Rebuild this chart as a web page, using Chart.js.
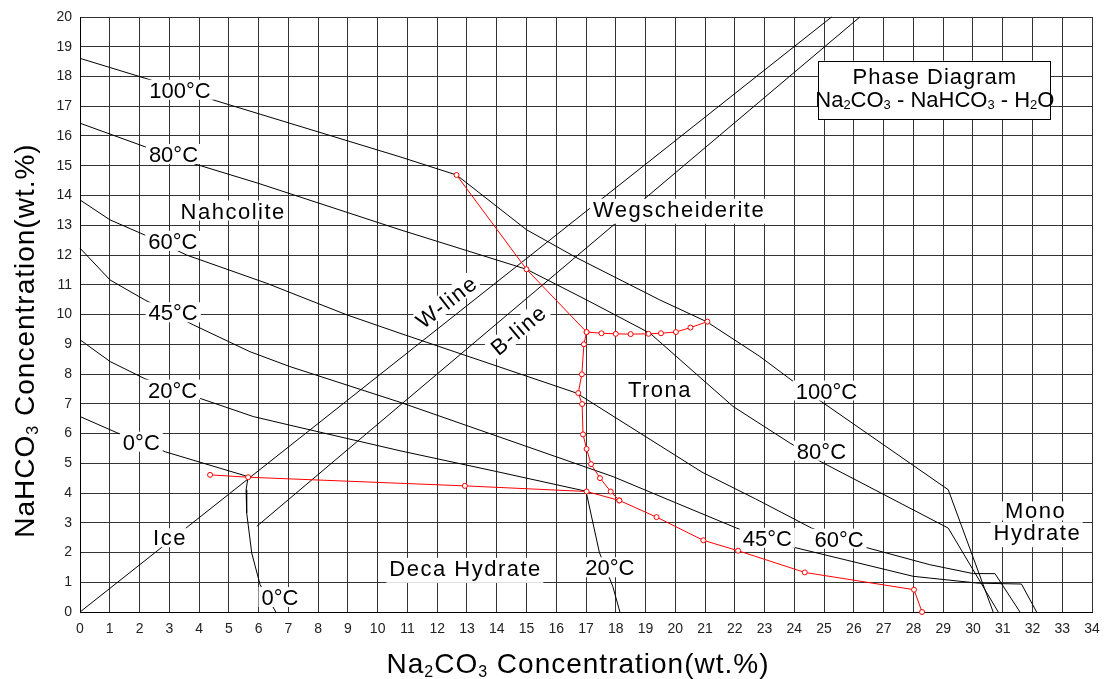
<!DOCTYPE html>
<html>
<head>
<meta charset="utf-8">
<script src="https://cdn.jsdelivr.net/npm/chart.js@4.4.1/dist/chart.umd.min.js"></script>
<style>
html, body { margin: 0; padding: 0; background: #fff; }
canvas { display: block; }
</style>
</head>
<body>
<canvas id="c" width="1111" height="679"></canvas>
<script>
const FONT = "'Liberation Sans', Arial, Helvetica, sans-serif";

// ---- axis ranges / ticks ----
const xMin = 0, xMax = 34, xStep = 1;
const yMin = 0, yMax = 20, yStep = 1;

// ---- isotherms: Na2CO3 wt% (X) vs NaHCO3 wt% (Y) ----
const iso100X = [0, 2.29, 4.39, 10.75, 12.65, 15.0, 16.7, 19.48, 21.05, 22.84, 24.19, 24.91, 29.17, 30.68];
const iso100Y = [18.61, 17.91, 17.24, 15.30, 14.69, 12.85, 11.9, 10.49, 9.76, 8.59, 7.58, 7.07, 4.11, 0];

const iso80X = [0, 2.18, 3.86, 5.99, 10.75, 15.0, 17.02, 19.15, 21.94, 23.85, 24.91, 29.17, 30.85];
const iso80Y = [16.43, 15.64, 15.06, 14.41, 12.85, 11.52, 10.49, 9.37, 6.91, 5.68, 5.04, 2.82, 0];

const iso60X = [0, 1.01, 2.18, 3.58, 6.27, 8.96, 10.75, 16.68, 20.9, 22.7, 24.58, 26.37, 28.55, 30.01, 30.74, 31.58];
const iso60Y = [13.85, 13.18, 12.67, 12.0, 11.05, 9.99, 9.37, 7.36, 4.7, 3.8, 2.82, 2.18, 1.59, 1.29, 1.29, 0];

const iso45X = [0, 1.01, 2.18, 3.81, 5.71, 7.05, 10.75, 17.91, 20.04, 22.06, 23.96, 27.99, 28.55, 30.17, 31.63, 32.14];
const iso45Y = [12.23, 11.16, 10.49, 9.65, 8.75, 8.25, 7.05, 4.55, 3.66, 2.82, 2.18, 1.2, 1.14, 0.97, 0.94, 0];

const iso20X = [0, 1.01, 2.18, 3.86, 5.82, 7.05, 10.75, 14.0, 17.0, 17.45, 17.9, 18.14];
const iso20Y = [9.15, 8.42, 7.84, 7.24, 6.57, 6.28, 5.42, 4.72, 4.06, 2.0, 0.86, 0];

const iso0X = [0, 1.23, 2.88, 5.65, 5.58, 5.6, 5.77, 6.05, 6.58];
const iso0Y = [6.57, 6.03, 5.38, 4.55, 4.11, 3.33, 1.98, 0.92, 0];

// ---- W-line and B-line ----
const wLineX = [0, 25.25];
const wLineY = [0, 20];
const bLineX = [5.94, 26.2];
const bLineY = [2.88, 20];

// ---- invariant-point (red) curves ----
const redLowX = [4.37, 5.65, 12.93, 17.02, 18.12, 19.37, 20.94, 22.11, 24.35, 28.02, 28.29];
const redLowY = [4.61, 4.53, 4.24, 4.05, 3.75, 3.19, 2.41, 2.06, 1.33, 0.75, 0];

const redUpX = [12.65, 15.0, 17.02, 16.93, 16.86, 16.74, 16.87, 16.9, 17.02, 17.17, 17.47, 17.83, 18.12];
const redUpY = [14.69, 11.52, 9.41, 9.0, 7.99, 7.36, 6.99, 5.97, 5.48, 4.97, 4.5, 4.05, 3.75];

const redTronaX = [17.02, 17.52, 18.0, 18.5, 19.1, 19.52, 20.02, 20.51, 21.08];
const redTronaY = [9.41, 9.37, 9.35, 9.34, 9.35, 9.37, 9.41, 9.56, 9.76];

// ---- region / isotherm labels (anchored in data units) ----
const labelText = ['100°C', '80°C', '60°C', '45°C', '20°C', '0°C', 'Nahcolite', 'Ice', '0°C',
  'Wegscheiderite', 'Trona', 'Deca Hydrate', '20°C', '45°C', '60°C', '100°C', '80°C', 'Mono', 'Hydrate',
  'W-line', 'B-line'];
const labelX = [3.36, 3.14, 3.12, 3.13, 3.11, 2.06, 5.12, 3.0, 6.72,
  20.1, 19.46, 12.93, 17.8, 23.09, 25.5, 25.08, 24.91, 32.08, 32.14,
  12.29, 14.71];
const labelY = [17.55, 15.39, 12.47, 10.07, 7.47, 5.72, 13.49, 2.51, 0.5,
  13.55, 7.49, 1.48, 1.5, 2.49, 2.46, 7.44, 5.42, 3.41, 2.68,
  10.42, 9.48];
const labelAngle = [0, 0, 0, 0, 0, 0, 0, 0, 0,
  0, 0, 0, 0, 0, 0, 0, 0, 0, 0,
  -38, -40];

// ---- legend box ----
const boxTitle = 'Phase Diagram';
const boxCornersX = [24.79, 32.59];
const boxCornersY = [18.53, 16.57];
const boxTextX = 28.72;
const boxTextY = [18.0, 17.24];

function pts(xs, ys) { return xs.map((x, i) => ({ x: x, y: ys[i] })); }

function blackLine(label, xs, ys) {
  return { label, data: pts(xs, ys), showLine: true, borderColor: '#000', borderWidth: 1,
    pointRadius: 0, pointHoverRadius: 0, tension: 0, fill: false, clip: false };
}
function redLine(label, xs, ys) {
  return { label, data: pts(xs, ys), showLine: true, borderColor: '#ff0000', borderWidth: 1,
    pointRadius: 2.5, pointHoverRadius: 2.5, pointBorderWidth: 1, pointBorderColor: '#ff0000',
    pointBackgroundColor: '#ffffff', tension: 0, fill: false, clip: false };
}

// rich text with subscripts
function richMeasure(ctx, segs, size, subSize) {
  let w = 0;
  for (const [t, sub] of segs) {
    ctx.font = (sub ? subSize : size) + 'px ' + FONT;
    w += ctx.measureText(t).width;
  }
  return w;
}
function richDraw(ctx, segs, x, y, size, subSize, subShift) {
  let cx = x;
  for (const [t, sub] of segs) {
    ctx.font = (sub ? subSize : size) + 'px ' + FONT;
    ctx.fillText(t, cx, sub ? y + subShift : y);
    cx += ctx.measureText(t).width;
  }
}

const overlayPlugin = {
  id: 'overlay',
  afterDatasetsDraw(chart) {
    const ctx = chart.ctx;
    const xs = chart.scales.x, ys = chart.scales.y;
    ctx.save();
    ctx.textAlign = 'left';
    ctx.textBaseline = 'alphabetic';
    // labels with white background
    for (let i = 0; i < labelText.length; i++) {
      const text = labelText[i];
      const px = xs.getPixelForValue(labelX[i]);
      const py = ys.getPixelForValue(labelY[i]);
      const size = 22;
      const spacing = text.indexOf('°') >= 0 ? 0 : 1.5;
      ctx.save();
      ctx.translate(px, py);
      ctx.rotate(labelAngle[i] * Math.PI / 180);
      ctx.font = size + 'px ' + FONT;
      ctx.letterSpacing = spacing + 'px';
      const m = ctx.measureText(text);
      const w = m.width - spacing;
      const base = size * 0.716 / 2;
      const asc = m.actualBoundingBoxAscent, desc = m.actualBoundingBoxDescent;
      ctx.fillStyle = '#ffffff';
      ctx.fillRect(-w / 2 - 3, base - asc - 2, w + 6, asc + desc + 4);
      ctx.fillStyle = '#000000';
      ctx.fillText(text, -w / 2, base);
      ctx.restore();
    }
    // legend box
    const bx0 = xs.getPixelForValue(boxCornersX[0]);
    const bx1 = xs.getPixelForValue(boxCornersX[1]);
    const by0 = ys.getPixelForValue(boxCornersY[0]);
    const by1 = ys.getPixelForValue(boxCornersY[1]);
    ctx.fillStyle = '#ffffff';
    ctx.fillRect(bx0, by0, bx1 - bx0, by1 - by0);
    ctx.strokeStyle = '#000000';
    ctx.lineWidth = 1;
    ctx.strokeRect(Math.round(bx0) + 0.5, Math.round(by0) + 0.5, Math.round(bx1 - bx0), Math.round(by1 - by0));
    ctx.fillStyle = '#000000';
    const tcx = xs.getPixelForValue(boxTextX);
    ctx.font = '22px ' + FONT;
    ctx.letterSpacing = '1px';
    const tw = ctx.measureText(boxTitle).width;
    ctx.fillText(boxTitle, tcx - tw / 2, ys.getPixelForValue(boxTextY[0]) + 7.9);
    ctx.letterSpacing = '0px';
    const seg2 = [['Na', 0], ['2', 1], ['CO', 0], ['3', 1], [' - NaHCO', 0], ['3', 1], [' - H', 0], ['2', 1], ['O', 0]];
    const w2 = richMeasure(ctx, seg2, 22, 13);
    richDraw(ctx, seg2, tcx - w2 / 2, ys.getPixelForValue(boxTextY[1]) + 7.9, 22, 13, 2);
    ctx.restore();
  },
  afterDraw(chart) {
    const ctx = chart.ctx;
    const a = chart.chartArea;
    ctx.save();
    ctx.fillStyle = '#000000';
    ctx.textBaseline = 'alphabetic';
    ctx.letterSpacing = '1px';
    // x title
    const segX = [['Na', 0], ['2', 1], ['CO', 0], ['3', 1], [' Concentration(wt.%)', 0]];
    const wx = richMeasure(ctx, segX, 28, 16);
    const cx = (a.left + a.right) / 2 - 8;
    richDraw(ctx, segX, cx - wx / 2, a.bottom + 61, 28, 16, 4);
    // y title
    const segY = [['NaHCO', 0], ['3', 1], [' Concentration(wt.%)', 0]];
    const wy = richMeasure(ctx, segY, 28, 16);
    const cy = (a.top + a.bottom) / 2 + 26;
    ctx.translate(34, cy);
    ctx.rotate(-Math.PI / 2);
    richDraw(ctx, segY, -wy / 2, 0, 28, 16, 4);
    ctx.restore();
  }
};

const ctx = document.getElementById('c').getContext('2d');
new Chart(ctx, {
  type: 'scatter',
  data: {
    datasets: [
      redLine('Invariant (low)', redLowX, redLowY),
      redLine('Invariant (upper)', redUpX, redUpY),
      redLine('Invariant (trona)', redTronaX, redTronaY),
      blackLine('100°C', iso100X, iso100Y),
      blackLine('80°C', iso80X, iso80Y),
      blackLine('60°C', iso60X, iso60Y),
      blackLine('45°C', iso45X, iso45Y),
      blackLine('20°C', iso20X, iso20Y),
      blackLine('0°C', iso0X, iso0Y),
      blackLine('W-line', wLineX, wLineY),
      blackLine('B-line', bLineX, bLineY)
    ]
  },
  options: {
    responsive: false,
    animation: false,
    events: [],
    layout: { padding: { top: 17, right: 19, left: 0, bottom: 0 } },
    plugins: { legend: { display: false }, tooltip: { enabled: false }, title: { display: false } },
    scales: {
      x: {
        type: 'linear', min: xMin, max: xMax,
        ticks: { stepSize: xStep, autoSkip: false, maxRotation: 0, padding: 9,
          color: '#222', font: { family: FONT, size: 14 } },
        grid: { color: '#333', lineWidth: 1, drawTicks: false },
        border: { display: true, color: '#000', width: 1 },
        afterFit: (s) => { s.height = 67; }
      },
      y: {
        type: 'linear', min: yMin, max: yMax,
        ticks: { stepSize: yStep, autoSkip: false, padding: 8,
          color: '#222', font: { family: FONT, size: 14 } },
        grid: { color: '#333', lineWidth: 1, drawTicks: false },
        border: { display: true, color: '#000', width: 1 },
        afterFit: (s) => { s.width = 80; }
      }
    }
  },
  plugins: [overlayPlugin]
});
</script>
</body>
</html>
